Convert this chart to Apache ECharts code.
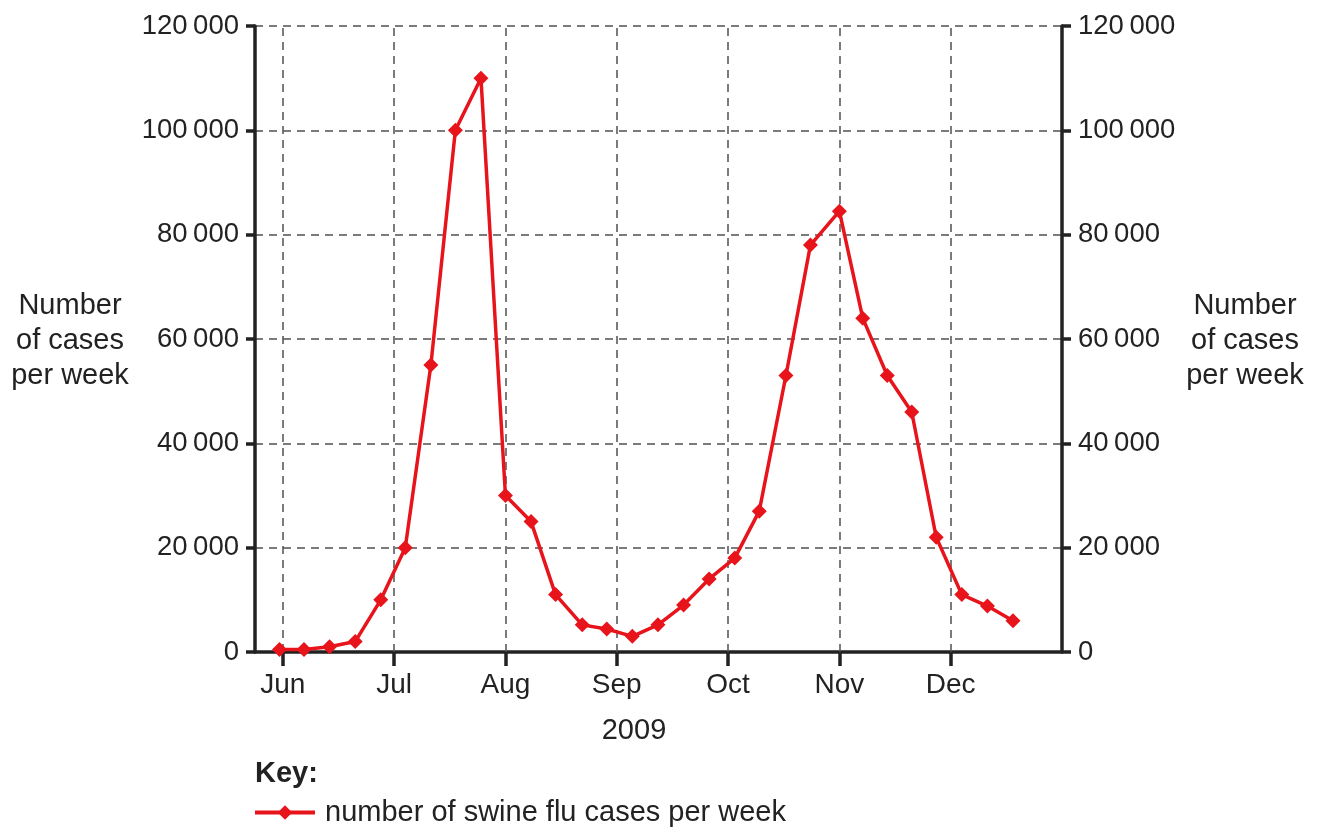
<!DOCTYPE html>
<html>
<head>
<meta charset="utf-8">
<script src="https://cdn.jsdelivr.net/npm/echarts@6/dist/echarts.min.js"></script>
<style>
html,body{margin:0;padding:0;background:#fff;}
#chart{width:1320px;height:830px;}
</style>
</head>
<body>
<div id="chart"></div>
<script>
// Month positions (0 = start of June)
const monthNames = ['Jun', 'Jul', 'Aug', 'Sep', 'Oct', 'Nov', 'Dec'];
const monthTicks = [0, 1, 2, 3, 4, 5, 6];
// Weekly points: x in months since 1 June 2009
const weekX = [-0.03, 0.19, 0.42, 0.65, 0.88, 1.10, 1.33, 1.55, 1.78, 2.00,
               2.23, 2.45, 2.69, 2.91, 3.14, 3.37, 3.60, 3.83, 4.06, 4.28,
               4.52, 4.74, 5.00, 5.21, 5.43, 5.65, 5.87, 6.10, 6.33, 6.56];
const cases = [500, 500, 1000, 2000, 10000, 20000, 55000, 100000, 110000, 30000,
               25000, 11000, 5200, 4400, 3000, 5200, 9000, 14000, 18000, 27000,
               53000, 78000, 84500, 64000, 53000, 46000, 22000, 11000, 8800, 6000];
const yTicks = [0, 20000, 40000, 60000, 80000, 100000, 120000];
const seriesName = 'number of swine flu cases per week';

const RED = '#e8141b';
const INK = '#222222';
const GRID = '#505050';
const FONT = '"Liberation Sans", Arial, sans-serif';

function fmt(v) {
  if (v === 0) return '0';
  const s = String(v);
  return s.slice(0, s.length - 3) + '\u2009' + s.slice(s.length - 3);
}

const chart = echarts.init(document.getElementById('chart'), null, {renderer: 'canvas'});

const yAxisBase = {
  type: 'value',
  min: 0,
  max: 120000,
  interval: 20000,
  axisLine: {show: true, onZero: false, lineStyle: {color: INK, width: 3.5}},
  axisTick: {show: true, length: 9, lineStyle: {color: INK, width: 3.5}},
  axisLabel: {color: INK, fontSize: 27.5, fontFamily: FONT, margin: 16, formatter: fmt}
};

chart.setOption({
  animation: false,
  backgroundColor: '#fff',
  grid: {left: 255, right: 258, top: 26, bottom: 178, containLabel: false},
  xAxis: {
    type: 'value',
    min: -0.25,
    max: 7,
    axisLine: {show: true, onZero: false, lineStyle: {color: INK, width: 3.5}},
    axisTick: {show: true, length: 14, customValues: monthTicks, lineStyle: {color: INK, width: 3.5}},
    axisLabel: {
      show: true, customValues: monthTicks, color: INK, fontSize: 28, fontFamily: FONT, margin: 19,
      formatter: function (v) { return monthNames[Math.round(v)] || ''; }
    },
    splitLine: {show: false}
  },
  yAxis: [
    Object.assign({}, yAxisBase, {
      position: 'left',
      splitLine: {show: true, lineStyle: {color: GRID, width: 1.5, type: [8, 6]}}
    }),
    Object.assign({}, yAxisBase, {
      position: 'right',
      splitLine: {show: false}
    })
  ],
  legend: {
    show: true,
    left: 248,
    top: 793,
    itemWidth: 60,
    itemHeight: 18,
    lineStyle: {width: 4},
    textStyle: {color: INK, fontSize: 29, fontFamily: FONT, padding: [0, 0, 0, 5]},
    data: [{name: seriesName}]
  },
  title: {
    text: 'Key:',
    left: 255,
    top: 759,
    padding: 0,
    textStyle: {color: INK, fontSize: 29, fontWeight: 'bold', fontFamily: FONT}
  },
  graphic: [
    {type: 'text', style: {x: 70, y: 288, text: 'Number\nof cases\nper week', fill: INK, font: '29px ' + FONT, align: 'center', lineHeight: 35}},
    {type: 'text', style: {x: 1245, y: 288, text: 'Number\nof cases\nper week', fill: INK, font: '29px ' + FONT, align: 'center', lineHeight: 35}},
    {type: 'text', style: {x: 634, y: 716, text: '2009', fill: INK, font: '29px ' + FONT, align: 'center'}}
  ],
  series: [
    {
      name: seriesName,
      type: 'line',
      xAxisIndex: 0,
      yAxisIndex: 0,
      data: weekX.map(function (x, i) { return [x, cases[i]]; }),
      symbol: 'diamond',
      symbolSize: 15,
      lineStyle: {color: RED, width: 3.5},
      itemStyle: {color: RED},
      z: 5,
      markLine: {
        silent: true,
        symbol: 'none',
        label: {show: false},
        lineStyle: {color: GRID, width: 1.5, type: [8, 6]},
        data: monthTicks.map(function (m) { return {xAxis: m}; }),
        z: 1
      }
    }
  ]
});
</script>
</body>
</html>
